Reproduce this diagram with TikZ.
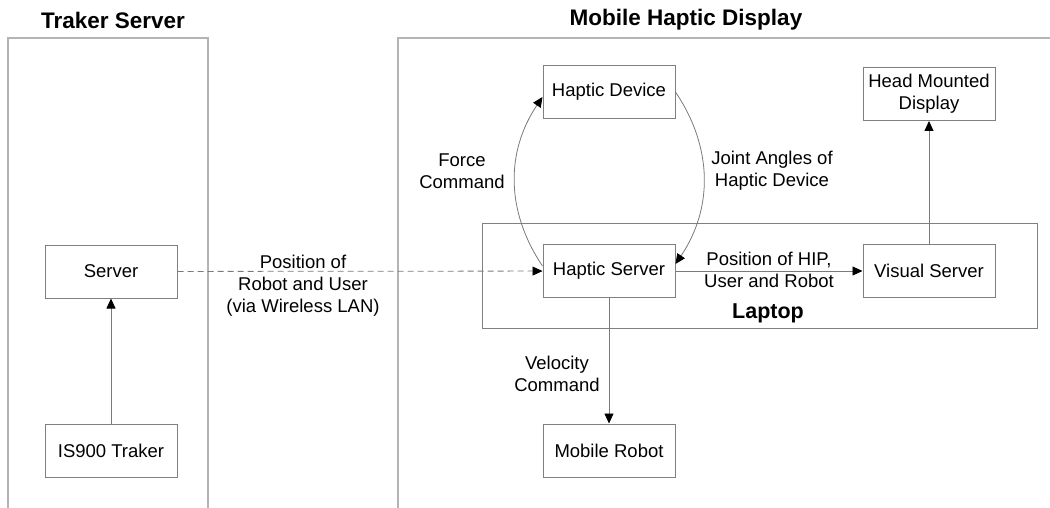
\documentclass[tikz,border=0pt]{standalone}
\usepackage{fontspec}
\setmainfont{Liberation Sans}
\usetikzlibrary{arrows.meta,calc}
\definecolor{boxgray}{HTML}{808080}
\definecolor{lanegray}{HTML}{B4B4B4}
\definecolor{linegray}{HTML}{7A7A7A}
\begin{document}
\begin{tikzpicture}[x=1pt,y=-1pt,
  box/.style={draw=boxgray, line width=1pt, minimum width=132pt, minimum height=53pt, inner sep=0pt, font=\fontsize{18.5}{22}\selectfont, align=center, fill=white},
  lbl/.style={font=\fontsize{18.5}{22}\selectfont, align=center, inner sep=0pt},
  ttl/.style={font=\bfseries\fontsize{22.5}{26}\selectfont, inner sep=0pt},
  lane/.style={draw=lanegray, line width=1.5pt},
  conn/.style={draw=linegray, line width=0.8pt, -{Triangle[black,length=10pt,width=9pt]}},
]
\useasboundingbox (0,0) rectangle (1050,508);
% lanes
\draw[lane] (8,508) -- (8,38) -- (208,38) -- (208,508);
\draw[lane] (398,508) -- (398,38) -- (1050,38);
\node[ttl] (t1) at (113,20) {Traker Server};
\node[ttl] (t2) at (686,20) {Mobile Haptic Display};
% laptop
\node[draw=boxgray, line width=1pt, minimum width=555pt, minimum height=105pt, inner sep=0pt] (lap) at (759.5,275.5) {};
\node[font=\bfseries\fontsize{21.5}{25}\selectfont, inner sep=0pt] (laplbl) at (768,313) {Laptop};
% boxes
\node[box] (srv) at (111,271.5) {Server};
\node[box] (trk) at (111,450.5) {IS900 Traker};
\node[box] (hd) at (609,92) {Haptic Device};
\node[box] (hs) at (609,271) {Haptic Server};
\node[box] (mr) at (609,450.5) {Mobile Robot};
\node[box] (vs) at (929,271) {Visual Server};
\node[box] (hmd) at (929,94) {Head Mounted\\Display};
% connectors
\draw[conn, dash pattern=on 6pt off 4pt] (srv) -- (hs);
\node[lbl] (l1) at (303,286) {Position of\\Robot and User\\(via Wireless LAN)};
\draw[conn] (trk) -- (srv);
\draw[conn] (hs) -- (vs);
\node[lbl] (l2) at (769,269.5) {Position of HIP,\\User and Robot};
\draw[conn] (vs) -- (hmd);
\draw[conn] (hs) -- (mr);
\node[lbl] (l3) at (557,374) {Velocity\\Command};
\draw[conn] ([yshift=5pt]hs.west) to[bend left=34] ([yshift=-5pt]hd.west);
\node[lbl] (l4) at (462,171) {Force\\Command};
\draw[conn] (hd.east) to[bend left=34] ([yshift=7pt]hs.east);
\node[lbl] (l5) at (772,171) {Joint Angles of\\Haptic Device};
\end{tikzpicture}
\end{document}
